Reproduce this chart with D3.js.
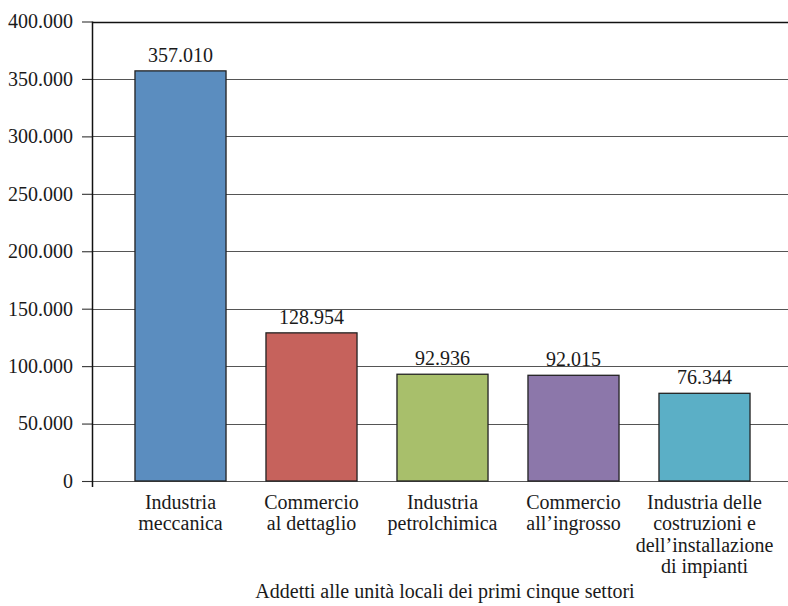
<!DOCTYPE html>
<html>
<head>
<meta charset="utf-8">
<script src="https://cdn.jsdelivr.net/npm/d3@7"></script>
<style>
  html, body { margin: 0; padding: 0; background: #fff; }
  svg text { font-family: "Liberation Serif", "DejaVu Serif", serif; fill: #1a1a1a; }
</style>
</head>
<body>
<svg id="chart" width="788" height="606"></svg>
<script>
// Employees in local units of the top five sectors
const categories = [
  ["Industria", "meccanica"],
  ["Commercio", "al dettaglio"],
  ["Industria", "petrolchimica"],
  ["Commercio", "all\u2019ingrosso"],
  ["Industria delle", "costruzioni e", "dell\u2019installazione", "di impianti"]
];
const values = [357010, 128954, 92936, 92015, 76344];
const barColors = ["#5b8dbf", "#c6625c", "#a8bf6b", "#8c77aa", "#5bafc6"];
const yTicks = [0, 50000, 100000, 150000, 200000, 250000, 300000, 350000, 400000];
const axisTitle = "Addetti alle unità locali dei primi cinque settori";

const svg = d3.select("#chart");
const plot = { left: 92, right: 788, top: 21.5, bottom: 481 };
const fontSize = 20;

// Italian thousands separator
const fmt = d3.formatLocale({ decimal: ",", thousands: ".", grouping: [3], currency: ["€", ""] }).format(",d");

const y = d3.scaleLinear().domain([0, 400000]).range([plot.bottom, plot.top]);
const x = d3.scaleBand()
  .domain(d3.range(values.length))
  .range([115, 770])
  .paddingInner(0.305)
  .paddingOuter(0.1525);

// horizontal gridlines
svg.append("g")
  .selectAll("line")
  .data(yTicks)
  .join("line")
  .attr("x1", plot.left)
  .attr("x2", plot.right)
  .attr("y1", d => Math.round(y(d)) + 0.5)
  .attr("y2", d => Math.round(y(d)) + 0.5)
  .attr("stroke", d => d === 400000 ? "#111" : "#555")
  .attr("stroke-width", d => d === 400000 ? 1.4 : 1.1);

// y axis with tick labels
const yAxis = svg.append("g")
  .attr("transform", `translate(${plot.left},0)`)
  .call(d3.axisLeft(y).tickValues(yTicks).tickFormat(fmt).tickSize(10).tickPadding(9));
yAxis.select(".domain").remove();
yAxis.selectAll(".tick line").attr("stroke", "#333").attr("stroke-width", 1.1);
yAxis.selectAll(".tick text")
  .attr("font-size", fontSize)
  .attr("fill", "#1a1a1a");

// vertical axis line, extending slightly below zero
svg.append("line")
  .attr("x1", plot.left + 0.5).attr("x2", plot.left + 0.5)
  .attr("y1", plot.top).attr("y2", plot.bottom + 6)
  .attr("stroke", "#111").attr("stroke-width", 1.5);

// bars
svg.append("g")
  .selectAll("rect")
  .data(values)
  .join("rect")
  .attr("x", (d, i) => x(i))
  .attr("width", x.bandwidth())
  .attr("y", d => y(d))
  .attr("height", d => y(0) - y(d))
  .attr("fill", (d, i) => barColors[i])
  .attr("stroke", "#222")
  .attr("stroke-width", 1.3);

// value labels
svg.append("g")
  .selectAll("text")
  .data(values)
  .join("text")
  .attr("x", (d, i) => x(i) + x.bandwidth() / 2)
  .attr("y", d => y(d) - 9)
  .attr("text-anchor", "middle")
  .attr("font-size", fontSize)
  .text(d => fmt(d));

// category labels
const catG = svg.append("g")
  .selectAll("text")
  .data(categories)
  .join("text")
  .attr("x", (d, i) => x(i) + x.bandwidth() / 2)
  .attr("y", 509)
  .attr("text-anchor", "middle")
  .attr("font-size", fontSize);
catG.selectAll("tspan")
  .data(d => d)
  .join("tspan")
  .attr("x", function () { return this.parentNode.getAttribute("x"); })
  .attr("dy", (d, j) => j === 0 ? 0 : 21.3)
  .text(d => d);

// axis title
svg.append("text")
  .attr("x", 445)
  .attr("y", 598)
  .attr("text-anchor", "middle")
  .attr("font-size", fontSize)
  .text(axisTitle);
</script>
</body>
</html>
